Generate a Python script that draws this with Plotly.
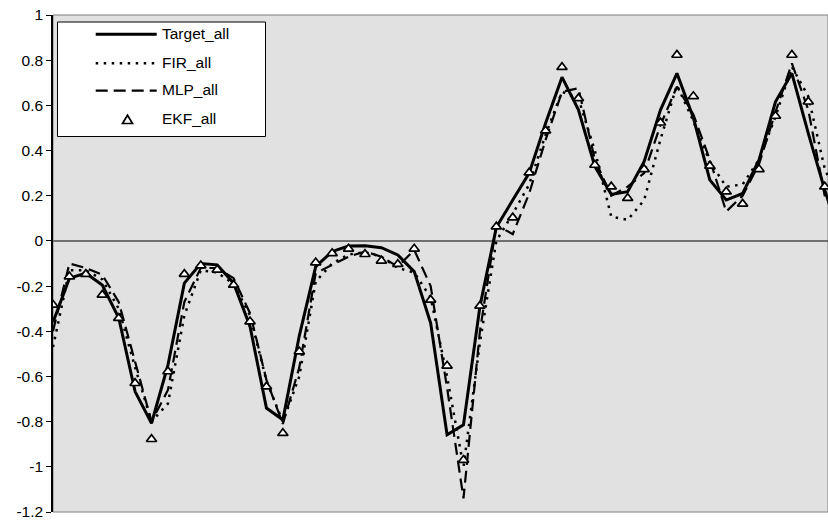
import plotly.graph_objects as go

# ---------------- data ----------------
idx = list(range(49))

target_all = [-0.36, -0.165, -0.143, -0.195, -0.34, -0.667, -0.807, -0.55, -0.187, -0.10,
              -0.106, -0.187, -0.379, -0.74, -0.792, -0.42, -0.114, -0.047, -0.022, -0.021,
              -0.03, -0.062, -0.136, -0.364, -0.858, -0.814, -0.29, 0.06, 0.181, 0.30,
              0.521, 0.725, 0.58, 0.33, 0.206, 0.218, 0.351, 0.58, 0.742, 0.545,
              0.27, 0.181, 0.21, 0.358, 0.616, 0.742, 0.476, 0.226, 0.0]

fir_all = [-0.47, -0.13, -0.13, -0.17, -0.30, -0.56, -0.80, -0.72, -0.33, -0.13,
           -0.14, -0.19, -0.33, -0.62, -0.80, -0.60, -0.18, -0.10, -0.06, -0.05,
           -0.07, -0.12, -0.14, -0.25, -0.60, -1.00, -0.45, 0.0, 0.12, 0.25,
           0.47, 0.66, 0.63, 0.40, 0.107, 0.093, 0.18, 0.45, 0.69, 0.53,
           0.35, 0.24, 0.25, 0.36, 0.55, 0.77, 0.64, 0.32, 0.15]

mlp_all = [-0.40, -0.10, -0.12, -0.15, -0.27, -0.54, -0.80, -0.66, -0.27, -0.12,
           -0.12, -0.165, -0.32, -0.615, -0.81, -0.56, -0.143, -0.106, -0.07, -0.047,
           -0.07, -0.114, -0.04, -0.20, -0.65, -1.14, -0.40, 0.07, 0.03, 0.21,
           0.447, 0.66, 0.676, 0.36, 0.20, 0.24, 0.30, 0.513, 0.683, 0.56,
           0.36, 0.13, 0.20, 0.34, 0.57, 0.786, 0.58, 0.20, 0.08]

ekf_all = [-0.283, -0.158, -0.147, -0.239, -0.342, -0.63, -0.878, -0.578, -0.147, -0.109,
           -0.128, -0.195, -0.357, -0.645, -0.851, -0.49, -0.096, -0.055, -0.035, -0.059,
           -0.088, -0.103, -0.035, -0.261, -0.553, -0.97, -0.288, 0.063, 0.103, 0.302,
           0.488, 0.769, 0.631, 0.336, 0.24, 0.189, 0.317, 0.523, 0.823, 0.64,
           0.332, 0.218, 0.164, 0.317, 0.553, 0.823, 0.616, 0.24, 0.12]

series_names = ["Target_all", "FIR_all", "MLP_all", "EKF_all"]
y_ticks = [1, 0.8, 0.6, 0.4, 0.2, 0, -0.2, -0.4, -0.6, -0.8, -1, -1.2]
y_tick_text = ["1", "0.8", "0.6", "0.4", "0.2", "0", "-0.2", "-0.4", "-0.6", "-0.8", "-1", "-1.2"]

# ---------------- layout geometry ----------------
W, H = 828, 522
ML, MR, MT, MB = 53, 0, 15, 10
PW, PH = W - ML - MR, H - MT - MB
FONT = "Liberation Sans, Arial, sans-serif"
FS = 15.5

def px(x):  # pixel -> paper x
    return (x - ML) / PW

def py(y):  # pixel -> paper y
    return (H - MB - y) / PH

fig = go.Figure()

fig.add_trace(go.Scatter(x=idx, y=target_all, mode="lines", name=series_names[0],
                         line=dict(color="black", width=3), showlegend=False))
fig.add_trace(go.Scatter(x=idx, y=fir_all, mode="lines", name=series_names[1],
                         line=dict(color="black", width=2.5, dash="2.5px,5.5px"), showlegend=False))
fig.add_trace(go.Scatter(x=idx, y=mlp_all, mode="lines", name=series_names[2],
                         line=dict(color="black", width=2.2, dash="12px,6px"), showlegend=False))
fig.add_trace(go.Scatter(x=idx, y=ekf_all, mode="markers", name=series_names[3],
                         marker=dict(symbol="triangle-up", size=9, color="white",
                                     line=dict(color="black", width=1.7)),
                         showlegend=False))

shapes = []
annotations = []

# plot-area border
shapes.append(dict(type="rect", xref="paper", yref="paper", x0=0, x1=1, y0=0, y1=1,
                   line=dict(color="#808080", width=1), layer="below"))

# manual legend box
LX0, LX1, LY0, LY1 = 57.5, 265.5, 22, 136.5
shapes.append(dict(type="rect", xref="paper", yref="paper",
                   x0=px(LX0), x1=px(LX1), y0=py(LY1), y1=py(LY0),
                   fillcolor="white", line=dict(color="black", width=1), layer="above"))
rows = [34.3, 63.3, 90.7, 119]
sx0, sx1 = 95.7, 156.7
dashes = ["solid", "2.5px,5.5px", "12px,6px"]
widths = [3, 2.5, 2.2]
for r, d, w in zip(rows[:3], dashes, widths):
    shapes.append(dict(type="line", xref="paper", yref="paper",
                       x0=px(sx0), x1=px(sx1), y0=py(r), y1=py(r),
                       line=dict(color="black", width=w, dash=d), layer="above"))
# triangle sample
tcx, tcy = 127.5, 120
path = "M {:.5f},{:.5f} L {:.5f},{:.5f} L {:.5f},{:.5f} Z".format(
    px(tcx - 5), py(tcy + 3.5), px(tcx + 5), py(tcy + 3.5), px(tcx), py(tcy - 4.8))
shapes.append(dict(type="path", xref="paper", yref="paper", path=path,
                   fillcolor="white", line=dict(color="black", width=1.7), layer="above"))
for r, name in zip(rows, series_names):
    annotations.append(dict(xref="paper", yref="paper", x=px(160), y=py(r - 1),
                            text=name, showarrow=False, xanchor="left", yanchor="middle",
                            font=dict(family=FONT, size=FS, color="black")))

fig.update_layout(
    width=W, height=H,
    margin=dict(l=ML, r=MR, t=MT, b=MB, pad=0),
    paper_bgcolor="white",
    plot_bgcolor="#e1e1e1",
    font=dict(family=FONT, size=FS, color="black"),
    showlegend=False,
    shapes=shapes,
    annotations=annotations,
    xaxis=dict(range=[0, 47.2], showticklabels=False, showgrid=False, zeroline=False,
               showline=False, ticks=""),
    yaxis=dict(range=[-1.2, 1], tickvals=y_ticks, ticktext=y_tick_text,
               showgrid=False, zeroline=True, zerolinecolor="#707070", zerolinewidth=1.6,
               showline=True, linecolor="black", linewidth=1.6,
               ticks="outside", ticklen=5, tickcolor="black", tickwidth=1.2,
               tickfont=dict(family=FONT, size=FS, color="black")),
)

fig.write_html("out.html")
